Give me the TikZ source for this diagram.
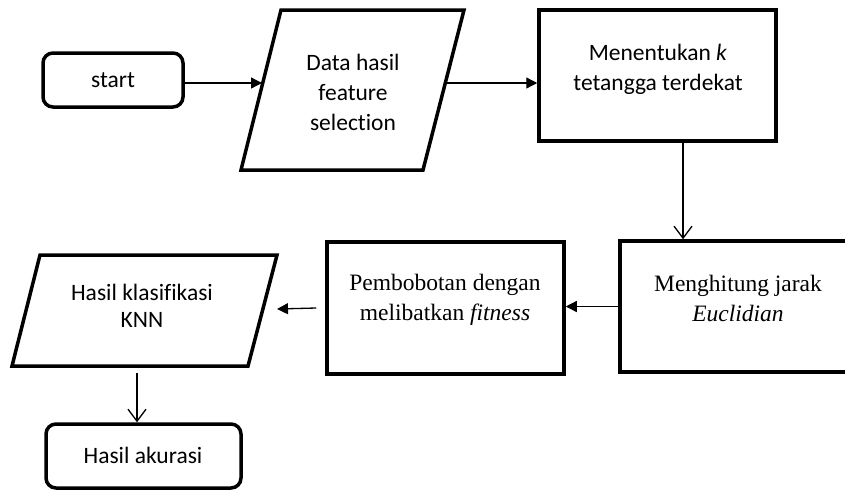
\documentclass[tikz,border=0pt]{standalone}
\usepackage{fontspec}
\setmainfont[Ligatures=NoCommon]{Carlito}
\newfontfamily\serifx[Ligatures=NoCommon]{Liberation Serif}
\usetikzlibrary{arrows.meta}
\begin{document}
\begin{tikzpicture}[x=1pt,y=-1pt,
  box/.style={draw,line width=3.5pt,inner sep=0pt,minimum width=237pt,minimum height=131pt},
  term/.style={draw,line width=3.5pt,rounded corners=10pt,inner sep=0pt},
  iopath/.style={draw,line width=3.5pt,line join=miter},
  sans/.style={font=\fontsize{23.5}{30}\selectfont,align=center,inner sep=0pt},
  serif/.style={font=\serifx\fontsize{23.5}{30}\selectfont,align=center,inner sep=0pt},
  arr/.style={line width=1.3pt,-{Triangle[length=11pt,width=11pt]}},
  barb/.style={line width=1.3pt,-{Straight Barb[length=12pt,width=18pt,line width=1.3pt]}}]
\useasboundingbox (0,0) rectangle (845,491);
% shapes
\node[term,minimum width=140pt,minimum height=54pt] (start) at (113,80) {};
\draw[iopath] (281,10) -- (464,10) -- (423,170) -- (241,170) -- cycle;
\coordinate (dataL) at (262,83);
\coordinate (dataR) at (447,83);
\node[box] (ment) at (657.5,75.5) {};
\node[box] (hitung) at (738.5,306.5) {};
\node[box,minimum height=132pt] (bobot) at (445.5,308) {};
\draw[iopath] (40,255) -- (277,255) -- (248,366) -- (12,366) -- cycle;
\coordinate (klasR) at (277,309);
\coordinate (klasB) at (137,373);
\node[term,minimum width=195pt,minimum height=64pt] (akur) at (143.5,456) {};
% texts
\node[sans] (tstart) at (113,80) {start};
\node[sans] (tdata) at (353,92) {Data hasil\\feature\\selection};
\node[sans] (tment) at (658,69) {Menentukan \textit{k}\\tetangga terdekat};
\node[serif] (thitung) at (738,298) {Menghitung jarak\\\textit{Euclidian}};
\node[serif] (tbobot) at (445,300) {Pembobotan dengan\\melibatkan \textit{fitness}};
\node[sans,font=\fontsize{23.5}{27}\selectfont] (tklas) at (142,306) {Hasil klasifikasi\\KNN};
\node[sans] (takur) at (143,455) {Hasil akurasi};
% connectors
\draw[arr] ([yshift=-3pt]start.east) -- (dataL);
\draw[arr] (dataR) -- (dataR -| ment.west);
\draw[barb] ([xshift=25.5pt]ment.south) -- ([xshift=25.5pt]ment.south |- hitung.north);
\draw[arr] (hitung.west) -- (hitung.west -| bobot.east);
\draw[arr] ([xshift=-9pt]bobot.west) -- (klasR);
\draw[barb] (klasB) -- (klasB |- akur.north);
\end{tikzpicture}
\end{document}
